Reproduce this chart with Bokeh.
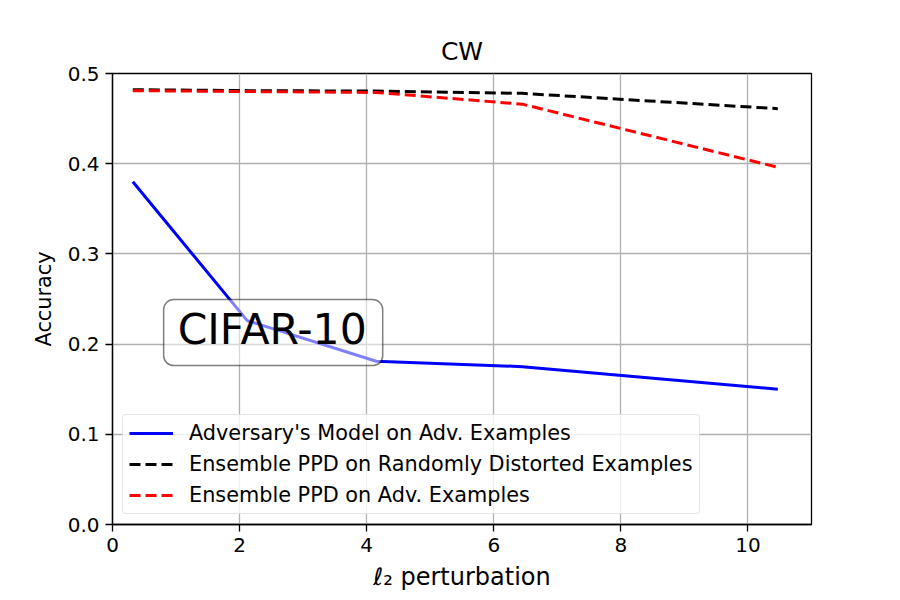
from bokeh.plotting import figure
from bokeh.models import Label, FixedTicker, NumeralTickFormatter, Legend
from bokeh.embed import file_html
from bokeh.resources import INLINE

# L2 perturbation size for each attack strength
perturbation = [0.32, 2.12, 4.15, 6.45, 10.47]

# Accuracy curves
adv_model_acc = [0.380, 0.226, 0.181, 0.175, 0.150]
ppd_random_acc = [0.482, 0.481, 0.4805, 0.478, 0.461]
ppd_adv_acc = [0.481, 0.480, 0.479, 0.466, 0.396]

series_labels = [
    "Adversary's Model on Adv. Examples",
    "Ensemble PPD on Randomly Distorted Examples",
    "Ensemble PPD on Adv. Examples",
]
x_ticks = [0, 2, 4, 6, 8, 10]
y_ticks = [0.0, 0.1, 0.2, 0.3, 0.4, 0.5]

FONT = "DejaVu Sans"

p = figure(
    width=900, height=600,
    frame_width=699, frame_height=451,
    min_border_left=112, min_border_right=89,
    min_border_top=73, min_border_bottom=76,
    x_range=(0, 11), y_range=(0, 0.5),
    output_backend="svg", toolbar_location=None,
    title="CW",
)
p.background_fill_color = "white"
p.border_fill_color = "white"
p.outline_line_color = "black"
p.outline_line_width = 1.3

p.title.align = "center"
p.title.text_font = FONT
p.title.text_font_size = "25px"
p.title.text_font_style = "normal"
p.title.text_color = "black"
p.title.standoff = 15

for ax in (p.xaxis[0], p.yaxis[0]):
    ax.axis_line_color = "black"
    ax.axis_line_width = 1.3
    ax.major_tick_line_color = "black"
    ax.major_tick_line_width = 1.3
    ax.major_tick_out = 7
    ax.major_tick_in = 0
    ax.minor_tick_line_color = None
    ax.major_label_text_font = FONT
    ax.major_label_text_font_size = "20px"
    ax.major_label_text_color = "black"
    ax.major_label_standoff = 6
    ax.axis_label_text_font = FONT
    ax.axis_label_text_font_style = "normal"
    ax.axis_label_text_color = "black"

p.xaxis.ticker = FixedTicker(ticks=x_ticks)
p.yaxis.ticker = FixedTicker(ticks=y_ticks)
p.yaxis.formatter = NumeralTickFormatter(format="0.0")

p.xaxis.axis_label = "ℓ₂ perturbation"
p.xaxis.axis_label_text_font_size = "24px"
p.xaxis.axis_label_standoff = 8
p.yaxis.axis_label = "Accuracy"
p.yaxis.axis_label_text_font_size = "20.8px"
p.yaxis.axis_label_standoff = 9

for g in (p.xgrid[0], p.ygrid[0]):
    g.grid_line_color = "#b0b0b0"
    g.grid_line_width = 1.3
p.xgrid.ticker = FixedTicker(ticks=x_ticks)
p.ygrid.ticker = FixedTicker(ticks=y_ticks)

r_adv = p.line(perturbation, adv_model_acc, line_color="blue", line_width=3)
r_rand = p.line(perturbation, ppd_random_acc, line_color="black", line_width=3,
                line_dash="11 5")
r_ppd = p.line(perturbation, ppd_adv_acc, line_color="red", line_width=3,
               line_dash="11 5")

legend = Legend(
    items=[(series_labels[0], [r_adv]),
           (series_labels[1], [r_rand]),
           (series_labels[2], [r_ppd])],
    location="bottom_left",
    margin=10,
    padding=6,
    spacing=7,
    label_height=24,
    glyph_height=24,
    glyph_width=44,
    label_standoff=16,
    label_text_font=FONT,
    label_text_font_size="20.8px",
    label_text_color="black",
    border_line_color="#cccccc",
    border_line_width=1.3,
    background_fill_color="white",
    background_fill_alpha=0.8,
)
if "border_radius" in Legend.properties():
    legend.border_radius = 4
p.add_layout(legend)

# dataset tag in a translucent rounded box (anchored at the box's top-left)
tag = Label(
    x=0.805, y=0.2494, text="CIFAR-10",
    text_font=FONT, text_font_size="42.5px", text_color="black",
    text_align="left", text_baseline="top",
    background_fill_color="white", background_fill_alpha=0.5,
    border_line_color="black", border_line_alpha=0.5, border_line_width=1.5,
    padding=dict(left=14, right=16, top=5, bottom=12), border_radius=10,
)
p.add_layout(tag)

open("out.html", "w").write(file_html(p, INLINE))
